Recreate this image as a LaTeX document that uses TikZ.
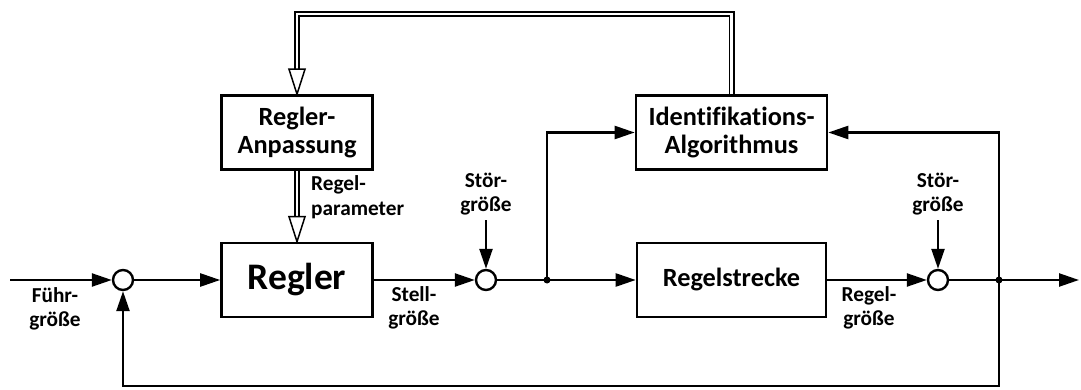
\documentclass[tikz,border=0pt]{standalone}
\usepackage{fontspec}
\setmainfont{Carlito}[Ligatures=NoCommon]
\usetikzlibrary{arrows.meta}
\begin{document}
\begin{tikzpicture}[x=1pt,y=-1pt,
  blk/.style={draw, line width=2.6pt, minimum width=151pt, minimum height=74pt, align=center, inner sep=0pt, font=\bfseries\fontsize{26.3}{28}\selectfont},
  sumpt/.style={circle, draw, line width=2.4pt, minimum size=20pt, inner sep=0pt, fill=white},
  jdot/.style={circle, fill, minimum size=7pt, inner sep=0pt},
  lbl/.style={font=\bfseries\fontsize{21.3}{24.5}\selectfont, align=center, inner sep=0pt},
  wire/.style={line width=2.4pt},
  sig/.style={line width=2.4pt, -{Triangle[length=20pt,width=13pt]}},
  dbl/.style={double distance=2.4pt, line width=1.8pt},
  otri/.style={line width=1.5pt, fill=white, line join=miter}
]
\useasboundingbox (0,0) rectangle (1081,390);
% blocks
\node[blk] (anp) at (297,132.5) {Regler-\\Anpassung};
\node[blk, minimum width=191pt] (ident) at (731.5,132.5) {Identifikations-\\Algorithmus};
\node[blk, font=\bfseries\fontsize{37.5}{40}\selectfont] (reg) at (297,280) {Regler};
\node[blk, minimum width=189pt] (strecke) at (731.5,280) {Regelstrecke};
% summing points and junctions
\node[sumpt] (s1) at (123,280) {};
\node[sumpt] (s2) at (486,280) {};
\node[sumpt] (s3) at (938,280) {};
\node[jdot] (j1) at (547,280) {};
\node[jdot] (j2) at (999,280) {};
% coordinates
\coordinate (in) at (10,280);
\coordinate (out) at (1079,280);
\coordinate (fbr) at (999,386);
\coordinate (d1) at (486,220);
\coordinate (d2) at (938,220);
\coordinate (top) at (500,14);
\coordinate (a1) at (297,70);
\coordinate (a2) at (297,218);
% labels
\node[lbl] (fuehr) at (55,309) {Führ-\\größe};
\node[lbl] (stell) at (414,308) {Stell-\\größe};
\node[lbl] (regelg) at (869,308) {Regel-\\größe};
\node[lbl] (stoer1) at (486,194) {Stör-\\größe};
\node[lbl] (stoer2) at (938,194) {Stör-\\größe};
\node[lbl, align=left, anchor=west] (param) at (311,197) {Regel-\\parameter};
% signal lines
\draw[sig] (in) -- (s1.west);
\draw[sig] (s1.east) -- (reg.west);
\draw[sig] (reg.east) -- (s2.west);
\draw[wire] (s2.east) -- (j1.center);
\draw[sig] (j1.center) -- (strecke.west);
\draw[sig] (j1.center) |- (ident.west);
\draw[sig] (strecke.east) -- (s3.west);
\draw[wire] (s3.east) -- (j2.center);
\draw[sig] (j2.center) -- (out);
\draw[sig] (j2.center) |- (ident.east);
\draw[sig] (j2.center) -- (fbr) -| (s1.south);
\draw[sig] (d1) -- (s2.north);
\draw[sig] (d2) -- (s3.north);
% double lines (parameter paths)
\draw[dbl] (ident.north) -- (ident.north |- top) -- (anp.north |- top) -- (a1);
\draw[otri] (anp.north) -- ++(-8,-25) -- ++(16,0) -- cycle;
\draw[dbl] (anp.south) -- (a2);
\draw[otri] (reg.north) -- ++(-8,-25) -- ++(16,0) -- cycle;
\end{tikzpicture}
\end{document}
